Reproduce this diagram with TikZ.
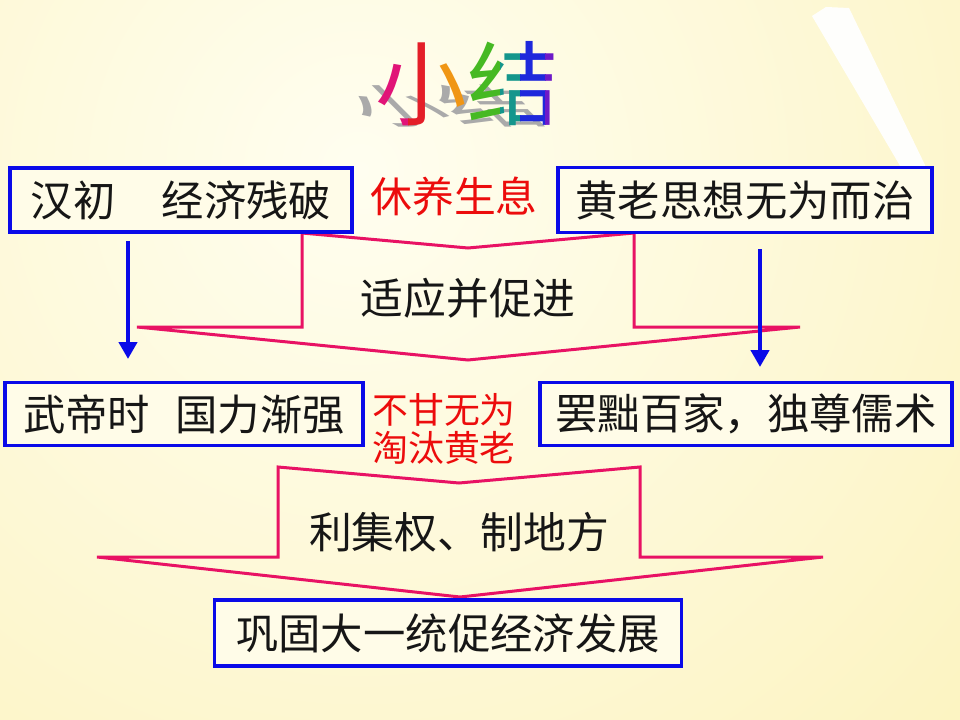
\documentclass[tikz,border=0pt]{standalone}
\usepackage{fontspec}
\newfontfamily\cjk{Noto Sans CJK SC}
\usetikzlibrary{arrows.meta}
\definecolor{xjblue}{RGB}{10,10,232}
\definecolor{xjpink}{RGB}{232,18,100}
\definecolor{xjred}{RGB}{236,12,12}
\definecolor{xjink}{RGB}{22,22,22}
\definecolor{xjcream}{RGB}{255,254,240}
\definecolor{xjyellow}{RGB}{250,236,160}
\definecolor{xjboxfill}{RGB}{255,252,232}
\definecolor{xjshadow}{RGB}{170,170,170}

\tikzset{
  sumbox/.style={draw=xjblue, line width=3.5bp, fill=xjboxfill, inner sep=0pt,
    font=\cjk\fontsize{42.5}{50}\selectfont, text=xjink},
  redtext/.style={font=\cjk\fontsize{42}{48}\selectfont, text=xjred, inner sep=0pt},
  midtext/.style={font=\cjk\fontsize{43}{50}\selectfont, text=xjink, inner sep=0pt},
  titletext/.style={font=\cjk\fontsize{92}{100}\selectfont, inner sep=0pt},
  bigarrow/.style={draw=xjpink, line width=3bp, line join=miter},
  downarrow/.style={draw=xjblue, line width=4.5bp, -{Triangle[length=17bp,width=18bp]}},
}

\begin{document}
\begin{tikzpicture}[x=1bp, y=-1bp]

% === background ===
\useasboundingbox (0,0) rectangle (960,720);
\begin{scope}
\clip (0,0) rectangle (960,720);
\shade[inner color=xjcream, outer color=xjyellow] (360,170) circle (1400);
\fill[white, opacity=0.95] (812,16) -- (826,7) -- (849,8) -- (925,165) -- (925,182) -- (906,176) -- cycle;
\end{scope}

% === title ===
\begin{scope}[shift={(459,124)}, yscale=0.5, xslant=-0.5]
\node[titletext, text=xjshadow, transform shape, anchor=base] (shadow) at (0,0) {小结};
\end{scope}
% colour bands, one character per band
\foreach \ch/\cx/\xa/\xb/\c in {小/421/370/408/{225,20,120}, 小/421/408/438/{228,30,40},
    小/421/438/467/{240,150,20}, 结/513/467/500/{70,185,35}, 结/513/500/520/{20,150,140},
    结/513/520/545/{30,40,220}, 结/513/545/565/{110,25,200}} {
  \definecolor{band}{RGB}{\c}
  \begin{scope}
  \clip (\xa,20) rectangle (\xb,150);
  \node[titletext, text=band, anchor=base] (title\xa) at (\cx,119) {\ch};
  \end{scope}
}

% === pink arrows ===
\draw[bigarrow] (302,233) -- (468,248) -- (634,233) -- (634,327) -- (800,327)
  -- (468,360) -- (137,327) -- (302,327) -- cycle;
\draw[bigarrow] (278,467) -- (459,483) -- (640,467) -- (640,557) -- (823,557)
  -- (460,597) -- (97,557) -- (278,557) -- cycle;
\node[midtext] (shiying) at (468,298) {适应并促进};
\node[midtext] (lijiquan) at (459,532) {利集权、制地方};

% === boxes ===
\node[sumbox, minimum width=342bp, minimum height=64bp] (hanchu) at (181,200)
  {汉初\hspace{1.1em}经济残破};
\node[sumbox, minimum width=374bp, minimum height=65bp] (huanglao) at (745,200)
  {黄老思想无为而治};
\node[redtext] (xiuyang) at (454,197) {休养生息};

\node[sumbox, minimum width=358bp, minimum height=63bp] (wudi) at (184,414)
  {武帝时\hspace{0.6em}国力渐强};
\node[sumbox, minimum width=412bp, minimum height=63bp] (bachu) at (746,414)
  {罢黜百家，独尊儒术};
\node[redtext, font=\cjk\fontsize{36}{38}\selectfont, align=center] (bugan) at (444,429)
  {不甘无为\\淘汰黄老};

\node[sumbox, minimum width=467bp, minimum height=66bp] (gonggu) at (448,633)
  {巩固大一统促经济发展};

% === blue arrows ===
\coordinate (lefttip) at (128,359);
\coordinate (righttip) at (760,367);
\draw[downarrow] ([yshift=-7bp]hanchu.south -| lefttip) -- (lefttip);
\draw[downarrow] ([yshift=-15bp]huanglao.south -| righttip) -- (righttip);

\end{tikzpicture}
\end{document}
